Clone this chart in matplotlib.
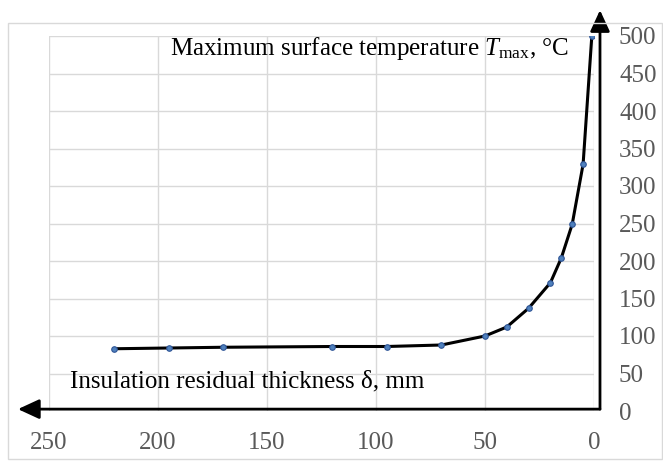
import matplotlib
matplotlib.use("Agg")
import matplotlib.pyplot as plt
from matplotlib.patches import Rectangle

# Data
thickness = [220, 195, 170, 120, 95, 70, 50, 40, 30, 20, 15, 10, 5, 1]
t_max = [83, 84, 85, 86, 86, 88, 100, 112, 137, 171, 204, 249, 329, 500]

x_ticks = [0, 50, 100, 150, 200, 250]
y_ticks = [0, 50, 100, 150, 200, 250, 300, 350, 400, 450, 500]

title_text = r"Maximum surface temperature $T_{\mathrm{max}}$, °C"
xlabel_text = "Insulation residual thickness δ, mm"

# Fonts
plt.rcParams["font.family"] = "Liberation Serif"
plt.rcParams["mathtext.fontset"] = "custom"
plt.rcParams["mathtext.rm"] = "Liberation Serif"
plt.rcParams["mathtext.it"] = "Liberation Serif:italic"

grid_color = "#d9d9d9"
tick_color = "#595959"

fig = plt.figure(figsize=(6.63, 4.62), dpi=100)
ax = fig.add_axes([49 / 663, 1 - 411 / 462, 545 / 663, 375 / 462])

ax.plot(thickness, t_max, color="black", lw=2.2, zorder=3,
        marker="o", markersize=4, markerfacecolor="#4f81bd",
        markeredgecolor="#2f5597", markeredgewidth=0.8)

ax.set_xlim(250, 0)
ax.set_ylim(0, 500)
ax.set_xticks(x_ticks)
ax.set_yticks(y_ticks)
ax.grid(True, color=grid_color, lw=1.0, zorder=0)
for s in ax.spines.values():
    s.set_visible(False)

ax.yaxis.tick_right()
ax.tick_params(axis="both", length=0, labelsize=18, labelcolor=tick_color)
ax.tick_params(axis="y", pad=18)
ax.tick_params(axis="x", pad=15)

# white boxes behind the two labels (hide the gridlines)
ax.add_patch(Rectangle((0.189, 0.915), 0.789, 0.12, transform=ax.transAxes,
                       facecolor="white", edgecolor="none", zorder=1, clip_on=False))
ax.add_patch(Rectangle((0.011, 0.035), 0.708, 0.096, transform=ax.transAxes,
                       facecolor="white", edgecolor="none", zorder=1, clip_on=False))

ax.text(0.222, 0.968, title_text, transform=ax.transAxes, fontsize=18,
        ha="left", va="center", zorder=4)
ax.text(0.0385, 0.08, xlabel_text, transform=ax.transAxes, fontsize=18,
        ha="left", va="center", zorder=4)

# axis arrows
arrow = dict(arrowstyle="-|>,head_length=0.65,head_width=0.3", lw=2,
             color="black", mutation_scale=20, shrinkA=0, shrinkB=0)
ax.annotate("", xy=(-0.057, 0.005), xytext=(1.011, 0.005),
            xycoords="axes fraction", arrowprops=arrow, annotation_clip=False)
ax.annotate("", xy=(1.011, 1.069), xytext=(1.011, 0.005),
            xycoords="axes fraction", arrowprops=arrow, annotation_clip=False)

# outer chart border
fig.patches.append(Rectangle((8 / 663, 1 - 459 / 462), 654 / 663, 436 / 462,
                             transform=fig.transFigure, fill=False,
                             edgecolor=grid_color, lw=1.0, zorder=5))

fig.savefig("out.png", dpi=100)
